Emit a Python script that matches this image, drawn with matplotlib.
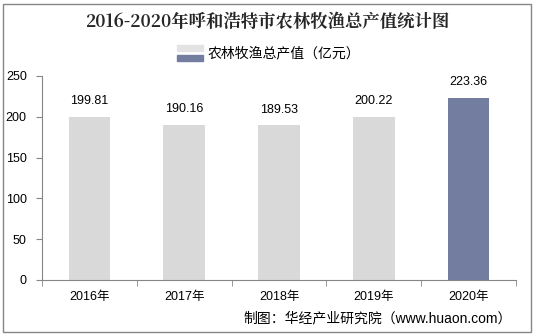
import matplotlib
matplotlib.use("Agg")
import matplotlib.pyplot as plt
from matplotlib.patches import Rectangle

plt.rcParams['font.family'] = ['Liberation Sans', 'Noto Sans CJK SC', 'DejaVu Sans']

years = ["2016年", "2017年", "2018年", "2019年", "2020年"]
values = [199.81, 190.16, 189.53, 200.22, 223.36]
bar_colors = ["#d9d9d9", "#d9d9d9", "#d9d9d9", "#d9d9d9", "#737d9f"]
y_ticks = [0, 50, 100, 150, 200, 250]

title = "2016-2020年呼和浩特市农林牧渔总产值统计图"
series_name = "农林牧渔总产值（亿元）"
source = "制图：华经产业研究院（www.huaon.com）"

W, H = 535, 335
fig = plt.figure(figsize=(W / 100, H / 100), dpi=100)
ax = fig.add_axes([42 / W, 1 - 280 / H, (516 - 42) / W, (280 - 76) / H])

x = list(range(len(years)))
ax.bar(x, values, width=0.44, color=bar_colors, zorder=2)
for xi, v in zip(x, values):
    ax.annotate(f"{v:.2f}", (xi, v), xytext=(0, 7), textcoords="offset points",
                ha="center", va="bottom", fontsize=9, color="#000000")

ax.set_xlim(-0.5, len(years) - 0.5)
ax.set_ylim(0, 250)
ax.set_yticks(y_ticks)
ax.set_yticklabels([str(t) for t in y_ticks], fontsize=9)
ax.set_xticks(x)
ax.set_xticklabels(years, fontsize=9)
ax.tick_params(axis="x", length=0, pad=8)
ax.set_xticks([i - 0.5 for i in range(len(years) + 1)], minor=True)
ax.tick_params(axis="x", which="minor", length=4, color="#868686", direction="out")
ax.tick_params(axis="y", length=4, color="#868686", pad=7)

for s in ("top", "right"):
    ax.spines[s].set_visible(False)
for s in ("left", "bottom"):
    ax.spines[s].set_color("#868686")
    ax.spines[s].set_linewidth(0.8)

# Title
fig.text(0.5, 1 - 22 / H, title, ha="center", va="center", fontsize=12.5,
         fontweight="bold", color="#262626",
         family=['Noto Serif CJK SC', 'Noto Sans CJK SC', 'DejaVu Sans'])

# Legend: two-tone swatch plus label
fig.patches.append(Rectangle((177 / W, 1 - 51 / H), 26 / W, 6 / H,
                             transform=fig.transFigure, color="#e3e3e3"))
fig.patches.append(Rectangle((177 / W, 1 - 61 / H), 26 / W, 6 / H,
                             transform=fig.transFigure, color="#737d9f"))
fig.text(208 / W, 1 - 53 / H, series_name, ha="left", va="center", fontsize=10,
         color="#000000")

# Source note
fig.text(512 / W, 1 - 318 / H, source, ha="right", va="center", fontsize=10,
         color="#000000")

# Outer frame
fig.patches.append(Rectangle((3 / W, 3 / H), (531 - 3) / W, (331 - 3) / H,
                             transform=fig.transFigure, fill=False,
                             edgecolor="#868686", linewidth=1))

fig.savefig("out.png", dpi=100)
